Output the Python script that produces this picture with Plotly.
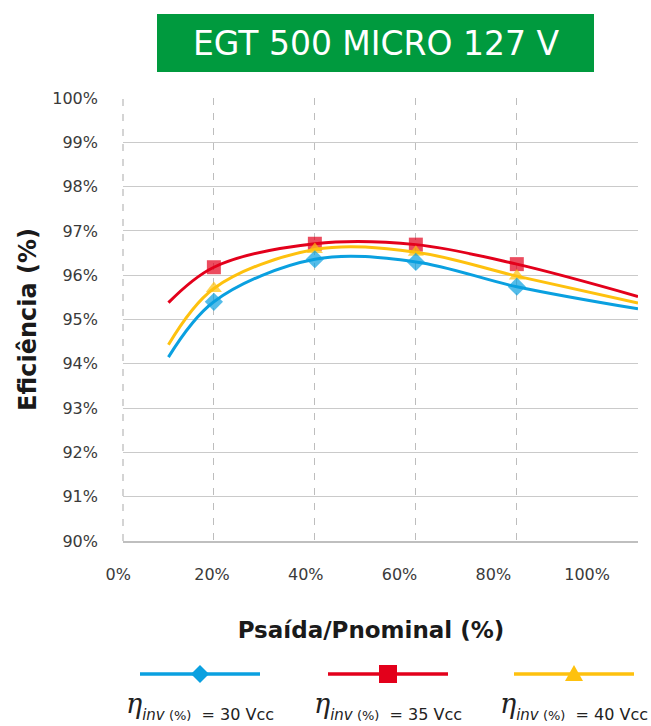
import plotly.graph_objects as go

# ---------------- data ----------------
load_pct = [11, 20, 40, 60, 80, 104]          # Psaída/Pnominal (%)
eff_30vcc = [94.15, 95.40, 96.36, 96.30, 95.74, 95.24]
eff_35vcc = [95.38, 96.18, 96.71, 96.69, 96.25, 95.52]
eff_40vcc = [94.43, 95.70, 96.58, 96.52, 95.98, 95.37]
has_marker = [False, True, True, True, True, False]

series_labels = ["30 Vcc", "35 Vcc", "40 Vcc"]
series_values = [eff_30vcc, eff_35vcc, eff_40vcc]

y_tick_vals = [90, 91, 92, 93, 94, 95, 96, 97, 98, 99, 100]
y_tick_text = [f"{v}%" for v in y_tick_vals]
x_tick_vals = [0, 20, 40, 60, 80, 100]
x_tick_text = [f"{v}%" for v in x_tick_vals]
x_grid_vals = [20, 40, 60, 80]

title_text = "EGT 500 MICRO 127 V"
y_title = "Eficiência (%)"
x_title = "Psaída/Pnominal (%)"

# ---------------- styling ----------------
colors = ["#0AA0E0", "#E3001B", "#FEC10E"]
symbols = ["diamond", "square", "triangle-up"]
FONT = "DejaVu Sans"
W, H = 651, 726
L, R, T, B = 100, 9, 98, 185
PW, PH = W - L - R, H - T - B


def px(xp):
    return (xp - L) / PW


def py(yp):
    return (H - B - yp) / PH


fig = go.Figure()

# draw order: red, yellow, blue (blue on top)
for idx in [1, 2, 0]:
    fig.add_trace(go.Scatter(
        x=load_pct, y=series_values[idx],
        mode="lines+markers",
        name=series_labels[idx],
        line=dict(color=colors[idx], width=3, shape="spline", smoothing=1),
        marker=dict(symbol=symbols[idx], color=colors[idx],
                    size=[14 if m else 0 for m in has_marker],
                    line=dict(width=0)),
        showlegend=False,
    ))

# empty trace that carries the tick-label axis (x2 / y2)
fig.add_trace(go.Scatter(x=[], y=[], xaxis="x2", yaxis="y2",
                         showlegend=False, hoverinfo="skip"))

fig.update_layout(
    width=W, height=H,
    margin=dict(l=L, r=R, t=T, b=B),
    paper_bgcolor="white", plot_bgcolor="rgba(0,0,0,0)",
    font=dict(family=FONT, color="#333333"),
    xaxis=dict(
        domain=[px(123), px(638)], range=[2, 104],
        tickvals=x_grid_vals, showticklabels=False, ticks="",
        showgrid=True, gridcolor="#BDBDBD", gridwidth=1.3, griddash="7px,8px",
        showline=True, linecolor="#BFBFBF", linewidth=1.5,
        zeroline=False, fixedrange=True,
    ),
    xaxis2=dict(
        anchor="y2", side="bottom",
        domain=[0, 1], range=[(L - 118.2) / 4.689, (W - R - 118.2) / 4.689],
        tickvals=x_tick_vals, ticktext=x_tick_text,
        tickfont=dict(size=16, color="#3a3a3a", family=FONT),
        ticks="", ticklabelstandoff=22,
        showgrid=False, showline=False, zeroline=False, fixedrange=True,
        title=dict(text=x_title, font=dict(size=23, color="#1a1a1a", family=FONT, weight=700),
                   standoff=38),
    ),
    yaxis2=dict(
        anchor="x2", domain=[0, 1], range=[0, 1],
        showgrid=False, showticklabels=False, showline=False, zeroline=False,
        ticks="", fixedrange=True,
    ),
    yaxis=dict(
        anchor="x", domain=[0, 1], range=[90, 100],
        tickvals=y_tick_vals, ticktext=y_tick_text,
        tickfont=dict(size=16, color="#3a3a3a", family=FONT),
        ticks="", ticklabelstandoff=24,
        showgrid=True, gridcolor="#CACACA", gridwidth=1.3,
        showline=False, zeroline=False, fixedrange=True,
        title=dict(text=y_title, font=dict(size=24, color="#1a1a1a", family=FONT, weight=700),
                   standoff=8),
    ),
)

shapes = []
# left dashed boundary line
shapes.append(dict(type="line", xref="paper", yref="paper",
                   x0=px(123), x1=px(123), y0=0, y1=1,
                   line=dict(color="#BDBDBD", width=1.3, dash="7px,8px")))
# title box
shapes.append(dict(type="rect", xref="paper", yref="paper",
                   x0=px(157), x1=px(594), y0=py(72), y1=py(14),
                   fillcolor="#009A3E", line=dict(width=0), layer="below"))

# custom legend
legend_cx = [200, 388, 574]
legend_y = 674
half = 60
marker_paths = [
    "M0,9 L9,0 L0,-9 L-9,0 Z",
    "M-9,-9 L9,-9 L9,9 L-9,9 Z",
    "M-9,-7 L9,-7 L0,9 Z",
]
annotations = []
for i in range(3):
    cx = legend_cx[i]
    shapes.append(dict(type="line", xref="paper", yref="paper",
                       x0=px(cx - half), x1=px(cx + half), y0=py(legend_y), y1=py(legend_y),
                       line=dict(color=colors[i], width=3.5)))
    shapes.append(dict(type="path", xref="paper", yref="paper",
                       xsizemode="pixel", ysizemode="pixel",
                       xanchor=px(cx), yanchor=py(legend_y),
                       path=marker_paths[i], fillcolor=colors[i], line=dict(width=0)))
    annotations.append(dict(
        xref="paper", yref="paper", x=px(cx), y=py(726),
        xanchor="center", yanchor="bottom", showarrow=False,
        text=('<sup><span style="font-family:DejaVu Serif;font-size:27px"><i>η</i></span></sup>'
              '<span style="font-size:15px"><i>inv</i></span>'
              '<span style="font-size:13px"> (%)</span>'
              f'&nbsp; = {series_labels[i]}'),
        font=dict(size=16, color="#222222", family=FONT),
    ))

annotations.append(dict(
    xref="paper", yref="paper", x=px(375.5), y=py(43),
    xanchor="center", yanchor="middle", showarrow=False,
    text=title_text, font=dict(size=33, color="white", family=FONT),
))

fig.update_layout(shapes=shapes, annotations=annotations)

fig.write_html("out.html",
               config={"displayModeBar": False},
               post_script="document.body.style.margin='0';document.body.style.overflow='hidden';")
